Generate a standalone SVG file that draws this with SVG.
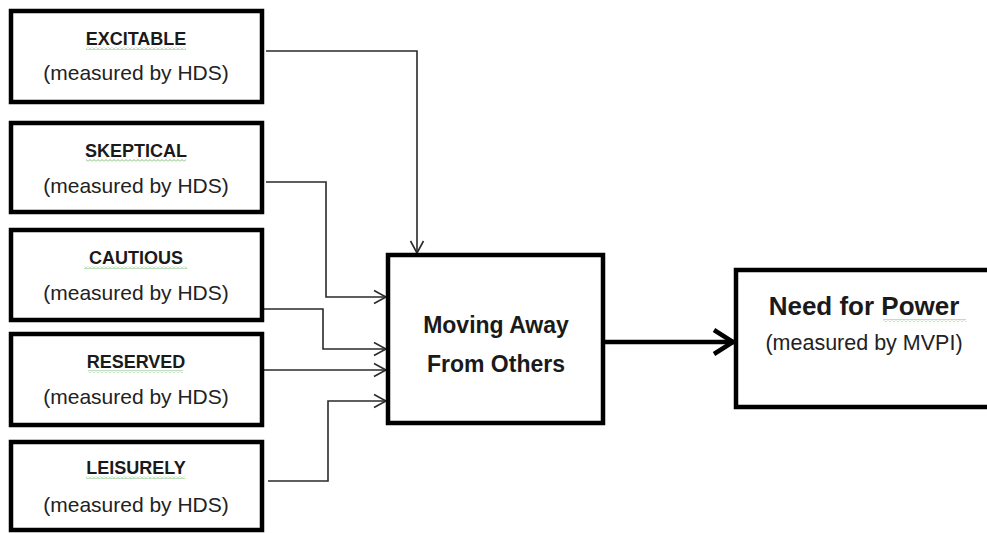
<svg xmlns="http://www.w3.org/2000/svg" width="987" height="533" viewBox="0 0 987 533">
  <style>
    .box { fill: #ffffff; stroke: #000000; stroke-width: 4.5; }
    .title { font-family: "Liberation Sans", Arial, sans-serif; font-weight: bold; font-size: 18px; fill: #1a1a1a; text-anchor: middle; }
    .sub { font-family: "Liberation Sans", Arial, sans-serif; font-size: 21px; fill: #222222; text-anchor: middle; }
    .big { font-family: "Liberation Sans", Arial, sans-serif; font-weight: bold; font-size: 23px; fill: #1a1a1a; text-anchor: middle; }
    .conn { fill: none; stroke: #2a2a2a; stroke-width: 1.6; }
    .thick { fill: none; stroke: #000000; stroke-width: 4.5; }
  </style>
  <defs>
    <marker id="arr" markerUnits="userSpaceOnUse" markerWidth="16" markerHeight="16" refX="13" refY="8" orient="auto">
      <path d="M1,1.5 L13,8 L1,14.5" fill="none" stroke="#2a2a2a" stroke-width="1.6"/>
    </marker>
    <marker id="arrBig" markerUnits="userSpaceOnUse" markerWidth="28" markerHeight="30" refX="23" refY="15" orient="auto">
      <path d="M3,3 L22,15 L3,27" fill="none" stroke="#000000" stroke-width="4.5"/>
    </marker>
    <pattern id="wave" width="4" height="3" patternUnits="userSpaceOnUse">
      <path d="M0,2.5 L2,0.5 L4,2.5" fill="none" stroke="#6fb86a" stroke-width="0.9"/>
    </pattern>
  </defs>

  <g id="connectors">
    <path class="conn" d="M266,51 H417 V253" marker-end="url(#arr)"/>
    <path class="conn" d="M266,182 H326 V297 H386" marker-end="url(#arr)"/>
    <path class="conn" d="M264,309 H323 V349 H386" marker-end="url(#arr)"/>
    <path class="conn" d="M264,370 H386" marker-end="url(#arr)"/>
    <path class="conn" d="M268,481 H328 V401 H386" marker-end="url(#arr)"/>
    <path class="thick" d="M605,342 H734" marker-end="url(#arrBig)"/>
  </g>

  <g id="excitable">
    <rect class="box" x="11" y="11" width="251" height="91"/>
    <text class="title" x="136" y="45">EXCITABLE</text>
    <rect x="86" y="47" width="100" height="3" fill="url(#wave)"/>
    <text class="sub" x="136" y="80">(measured by HDS)</text>
  </g>

  <g id="skeptical">
    <rect class="box" x="11" y="123" width="251" height="89"/>
    <text class="title" x="136" y="157">SKEPTICAL</text>
    <rect x="86" y="159" width="100" height="3" fill="url(#wave)"/>
    <text class="sub" x="136" y="193">(measured by HDS)</text>
  </g>

  <g id="cautious">
    <rect class="box" x="11" y="230" width="251" height="90"/>
    <text class="title" x="136" y="264">CAUTIOUS</text>
    <rect x="84" y="266" width="103" height="3" fill="url(#wave)"/>
    <text class="sub" x="136" y="300">(measured by HDS)</text>
  </g>

  <g id="reserved">
    <rect class="box" x="11" y="334" width="251" height="91"/>
    <text class="title" x="136" y="368">RESERVED</text>
    <rect x="88" y="370" width="95" height="3" fill="url(#wave)"/>
    <text class="sub" x="136" y="404">(measured by HDS)</text>
  </g>

  <g id="leisurely">
    <rect class="box" x="11" y="442" width="251" height="88"/>
    <text class="title" x="136" y="474">LEISURELY</text>
    <rect x="86" y="476" width="99" height="3" fill="url(#wave)"/>
    <text class="sub" x="136" y="512">(measured by HDS)</text>
  </g>

  <g id="moving-away">
    <rect class="box" x="388" y="255" width="215" height="168"/>
    <text class="big" x="496" y="333">Moving Away</text>
    <text class="big" x="496" y="372">From Others</text>
  </g>

  <g id="need-for-power">
    <rect class="box" x="736" y="270" width="260" height="137"/>
    <text class="big" x="864" y="315" style="font-size:26px">Need for Power</text>
    <rect x="883" y="319" width="83" height="3" fill="url(#wave)"/>
    <text class="sub" x="864" y="350" style="font-size:21.5px">(measured by MVPI)</text>
  </g>
</svg>
